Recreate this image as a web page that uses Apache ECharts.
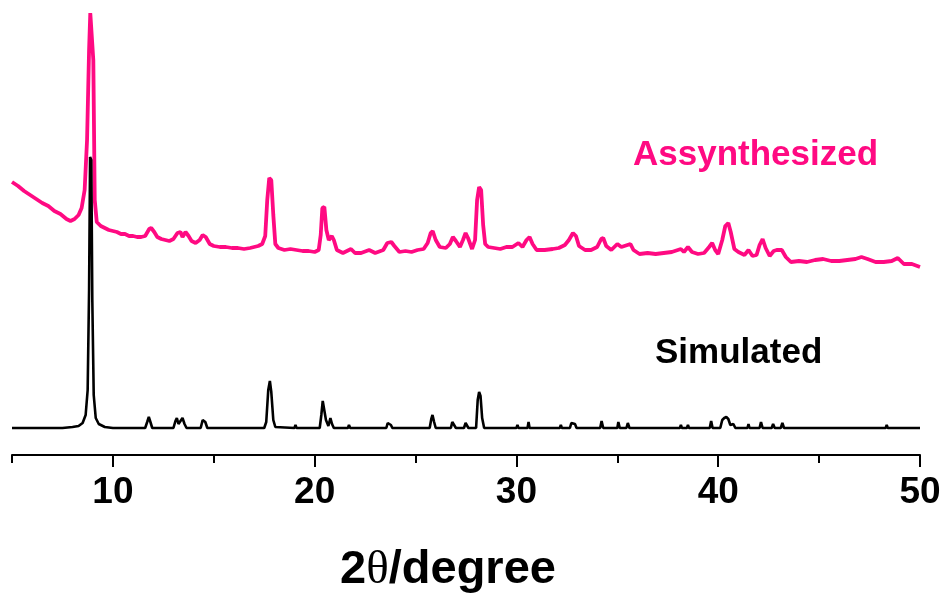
<!DOCTYPE html>
<html>
<head>
<meta charset="utf-8">
<script src="https://cdn.jsdelivr.net/npm/echarts@6/dist/echarts.min.js"></script>
<style>
html,body{margin:0;padding:0;background:#fff;}
#chart{width:946px;height:606px;}
</style>
</head>
<body>
<div id="chart"></div>
<script>
// 2-theta positions and intensities (a.u.)
var assynX = [5.0,5.3,5.6,5.9,6.2,6.5,6.8,7.1,7.4,7.7,7.9,8.1,8.3,8.45,8.6,8.72,8.82,8.88,8.97,9.03,9.1,9.2,9.4,9.6,9.8,10.0,10.2,10.4,10.6,10.8,11.0,11.2,11.4,11.6,11.8,11.9,12.05,12.2,12.4,12.6,12.8,13.0,13.2,13.35,13.45,13.6,13.75,13.9,14.1,14.3,14.45,14.6,14.8,15.0,15.3,15.6,15.9,16.2,16.5,16.8,17.0,17.2,17.4,17.55,17.65,17.75,17.85,17.95,18.05,18.2,18.5,18.8,19.1,19.4,19.7,20.0,20.2,20.3,20.38,20.48,20.58,20.7,20.85,20.95,21.1,21.4,21.7,21.8,22.0,22.3,22.7,23.0,23.4,23.6,23.8,23.95,24.2,24.5,24.8,25.1,25.4,25.6,25.75,25.85,26.0,26.2,26.5,26.7,26.85,27.0,27.2,27.35,27.48,27.6,27.8,27.95,28.05,28.15,28.25,28.35,28.45,28.6,28.9,29.2,29.5,29.8,30.1,30.3,30.5,30.65,30.8,31.0,31.4,31.8,32.1,32.4,32.6,32.8,32.95,33.1,33.4,33.7,34.0,34.2,34.3,34.45,34.7,35.0,35.2,35.5,35.65,35.8,36.1,36.5,36.9,37.3,37.7,38.0,38.15,38.3,38.5,38.7,39.0,39.3,39.55,39.7,39.85,40.0,40.2,40.35,40.5,40.62,40.8,41.0,41.3,41.5,41.7,41.9,42.05,42.2,42.35,42.55,42.75,42.9,43.15,43.35,43.6,44.0,44.4,44.8,45.2,45.6,46.0,46.4,46.8,47.1,47.4,47.8,48.2,48.6,48.9,49.2,49.6,50.0];
var assynY = [273,269,264,260,256,252,249,244,241,236,234,236,240,247,265,315,405,442,441,395,255,233,229,227,225,224,223,221,221,219,219,218,218,219,226,227,223,218,216,215,214,216,222,223,218,223,219,214,212,215,220,218,211,209,208,208,207,207,206,207,208,209,211,219,255,277,275,240,211,207,205,206,205,204,204,203,205,220,247,248,225,215,219,215,205,202,205,206,202,202,205,202,205,212,213,209,203,204,203,205,206,212,222,224,215,208,207,211,218,214,208,215,222,217,206,215,255,268,265,230,211,208,207,206,208,208,212,208,215,218,211,205,205,206,207,210,215,222,219,209,205,205,208,216,217,209,205,211,208,210,211,205,201,202,201,202,203,205,206,203,208,203,201,202,208,212,205,201,215,229,232,223,206,203,200,205,199,200,210,216,207,199,204,205,205,198,193,194,193,195,196,194,194,195,196,198,196,193,193,194,197,191,191,188];

var simX = [5.0,7.5,8.0,8.3,8.5,8.65,8.75,8.82,8.87,8.93,8.98,9.05,9.15,9.3,9.6,10.0,11.6,11.7,11.78,11.86,11.95,13.0,13.1,13.17,13.25,13.35,13.45,13.55,13.65,14.35,14.45,14.5,14.58,14.68,17.5,17.6,17.7,17.78,17.85,17.95,18.05,19.0,19.05,19.1,20.25,20.33,20.4,20.48,20.56,20.68,20.78,20.86,20.95,21.65,21.7,21.76,22.3,22.35,22.4,22.8,22.85,22.9,23.55,23.62,23.7,23.78,23.85,25.7,25.78,25.84,25.92,26.0,26.75,26.82,26.9,27.0,27.4,27.48,27.55,27.62,28.0,28.08,28.15,28.22,28.3,28.4,30.0,30.05,30.1,30.55,30.6,30.65,32.15,32.2,32.25,32.65,32.72,32.8,32.9,32.98,34.15,34.22,34.3,35.0,35.05,35.12,35.45,35.52,35.6,36.6,36.65,36.7,38.1,38.15,38.2,38.45,38.5,38.55,39.58,39.65,39.72,40.1,40.2,40.3,40.4,40.5,40.6,40.75,40.85,41.45,41.5,41.55,42.05,42.12,42.2,42.65,42.72,42.8,43.1,43.18,43.26,45.15,45.2,45.25,47.0,47.05,47.1,47.35,47.4,47.45,48.3,48.35,48.4,48.75,48.8,48.85,50.0];
var simY = [27,27,28,29,32,40,65,165,298,295,155,60,37,31,28,27,27,33,38,33,27,27,34,37,31,34,37,31,27,27,35,37,33,27,27,33,65,74,63,35,28,27,30,27,27,40,54,52,35,29,37,31,27,27,30,27,27,29,27,27,28,27,27,32,34,30,27,27,36,40,33,27,27,33,31,27,27,32,34,27,27,55,63,59,37,27,27,30,27,27,33,27,27,30,27,27,32,33,31,27,27,34,27,27,33,27,27,32,27,27,29,27,27,30,27,27,30,27,27,34,27,27,35,37,38,36,30,31,27,27,31,27,27,33,27,27,31,27,27,32,27,27,29,27,27,29,27,27,29,27,27,30,27,27,29,27,27];

var xTicksMajor = [10, 20, 30, 40, 50];
var xTicksMinor = [5, 15, 25, 35, 45];
var seriesNames = ['Assynthesized', 'Simulated'];
var axisTitleParts = ['2', '\u03b8', '/degree'];

function pairs(xs, ys) {
  var out = [];
  for (var i = 0; i < xs.length; i++) out.push([xs[i], ys[i]]);
  return out;
}

var PINK = '#ff0a82';
var chart = echarts.init(document.getElementById('chart'), null, {renderer: 'canvas'});
var FONT = '"Liberation Sans", Arial, sans-serif';

chart.setOption({
  animation: false,
  backgroundColor: '#ffffff',
  grid: {left: 12, right: 26, top: 0, bottom: 151, containLabel: false},
  xAxis: [{
    type: 'value', min: 5, max: 50,
    axisLine: {show: true, lineStyle: {color: '#000', width: 2}},
    axisTick: {show: true, customValues: xTicksMajor, length: 12, inside: false, lineStyle: {color: '#000', width: 2}},
    axisLabel: {show: true, customValues: xTicksMajor, margin: 19, color: '#000', fontSize: 37, fontWeight: 'bold', fontFamily: FONT},
    splitLine: {show: false},
    name: axisTitleParts[0] + '{t|' + axisTitleParts[1] + '}' + axisTitleParts[2],
    nameLocation: 'middle', nameGap: 92,
    nameTextStyle: {
      color: '#000', fontSize: 47, fontWeight: 'bold', fontFamily: FONT,
      padding: [0, 36, 0, 0],
      rich: {t: {fontSize: 47, fontWeight: 'normal', fontFamily: '"Liberation Serif", serif', color: '#000'}}
    }
  }, {
    type: 'value', min: 5, max: 50, position: 'bottom',
    axisLine: {show: false},
    axisTick: {show: true, customValues: xTicksMinor, length: 8, lineStyle: {color: '#000', width: 2}},
    axisLabel: {show: false},
    splitLine: {show: false}
  }],
  yAxis: {type: 'value', min: 0, max: 455, show: false, splitLine: {show: false}},
  series: [{
    name: seriesNames[0], type: 'line', xAxisIndex: 0, showSymbol: false, symbol: 'none',
    data: pairs(assynX, assynY),
    lineStyle: {color: PINK, width: 3.8}, z: 2
  }, {
    name: seriesNames[1], type: 'line', xAxisIndex: 0, showSymbol: false, symbol: 'none',
    data: pairs(simX, simY),
    lineStyle: {color: '#000', width: 2.6}, z: 3
  }],
  graphic: [{
    type: 'text', left: 633, top: 138,
    style: {text: seriesNames[0], fill: PINK, font: 'bold 35px ' + FONT}
  }, {
    type: 'text', left: 655, top: 336,
    style: {text: seriesNames[1], fill: '#000', font: 'bold 35px ' + FONT}
  }]
});
</script>
</body>
</html>
